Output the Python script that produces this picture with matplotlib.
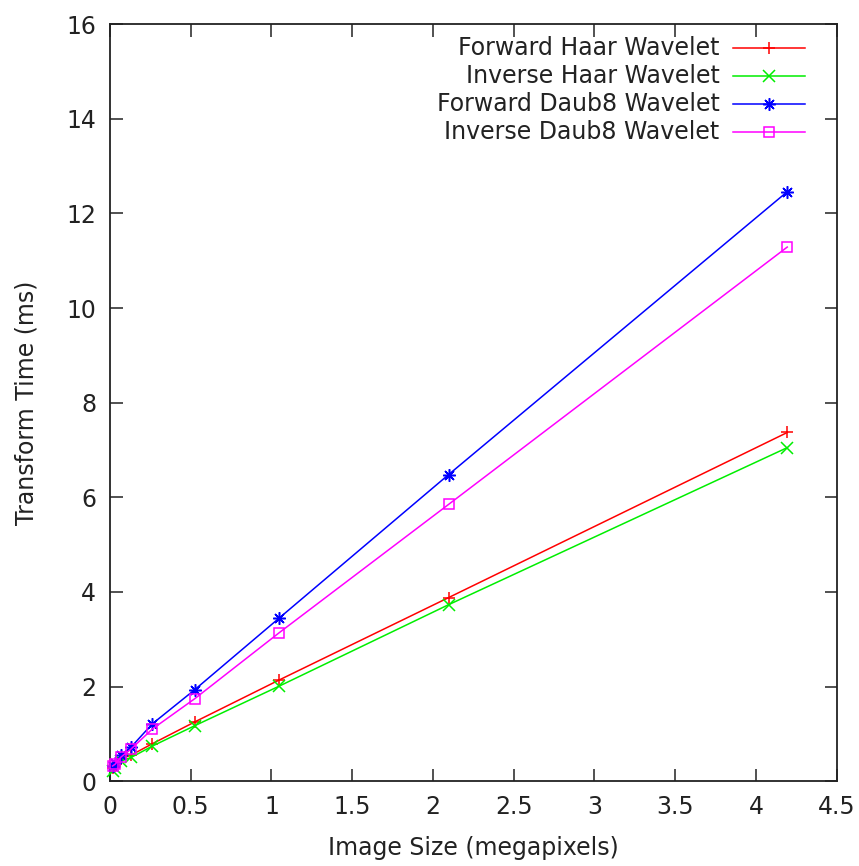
import matplotlib
matplotlib.use("Agg")
import matplotlib.pyplot as plt
from matplotlib.ticker import FuncFormatter

# Image sizes in megapixels (doubling each step)
sizes = [0.0164, 0.0328, 0.0655, 0.131, 0.262, 0.524, 1.049, 2.097, 4.194]

# Transform times in milliseconds
fwd_haar = [0.28, 0.33, 0.47, 0.55, 0.79, 1.25, 2.14, 3.88, 7.37]
inv_haar = [0.22, 0.28, 0.42, 0.50, 0.74, 1.17, 2.01, 3.73, 7.05]
fwd_daub8 = [0.33, 0.38, 0.55, 0.72, 1.21, 1.93, 3.45, 6.48, 12.46]
inv_daub8 = [0.32, 0.36, 0.50, 0.68, 1.10, 1.74, 3.14, 5.85, 11.29]

labels = ["Forward Haar Wavelet", "Inverse Haar Wavelet",
          "Forward Daub8 Wavelet", "Inverse Daub8 Wavelet"]
series = [fwd_haar, inv_haar, fwd_daub8, inv_daub8]
colors = ["#ff0000", "#00ee00", "#0000ff", "#ff00ff"]
markers = ["+", "x", (8, 2, 0), "s"]

x_ticks = [0, 0.5, 1, 1.5, 2, 2.5, 3, 3.5, 4, 4.5]
y_ticks = [0, 2, 4, 6, 8, 10, 12, 14, 16]

plt.rcParams["font.family"] = ["DejaVu Sans"]
FS = 17


def marker_style(c, m):
    return dict(marker=m, markersize=7 if m == "s" else 9,
                markerfacecolor="none" if m == "s" else c,
                markeredgecolor=c, markeredgewidth=1.1)


fig = plt.figure(figsize=(8.59, 8.66), dpi=100)
ax = fig.add_axes([0.128, 0.098, 0.846, 0.874])

for ys, c, m in zip(series, colors, markers):
    ax.plot(sizes, ys, color=c, lw=1.1, clip_on=False, zorder=3,
            **marker_style(c, m))

ax.set_xlim(0, 4.5)
ax.set_ylim(0, 16)
ax.set_xticks(x_ticks)
ax.set_yticks(y_ticks)
ax.xaxis.set_major_formatter(FuncFormatter(lambda v, p: f"{v:g}"))
ax.yaxis.set_major_formatter(FuncFormatter(lambda v, p: f"{v:g}"))
ax.tick_params(direction="in", length=9, width=1.1, top=True, right=True,
               labelsize=FS, colors="#222222", pad=10)
for s in ax.spines.values():
    s.set_linewidth(1.3)
    s.set_color("#222222")

ax.set_xlabel("Image Size (megapixels)", fontsize=FS, color="#222222", labelpad=12)
ax.set_ylabel("Transform Time (ms)", fontsize=FS, color="#222222", labelpad=20)

# Key: label text right-aligned, sample line with marker to its right
row_y = [0.968, 0.931, 0.894, 0.857]
for yk, lab, c, m in zip(row_y, labels, colors, markers):
    ax.text(0.839, yk, lab, transform=ax.transAxes, ha="right", va="center",
            fontsize=FS, color="#222222")
    ax.plot([0.857, 0.956], [yk, yk], transform=ax.transAxes, color=c, lw=1.1,
            clip_on=False)
    ax.plot([0.9065], [yk], transform=ax.transAxes, color=c, clip_on=False,
            **marker_style(c, m))

fig.savefig("out.png", dpi=100)
